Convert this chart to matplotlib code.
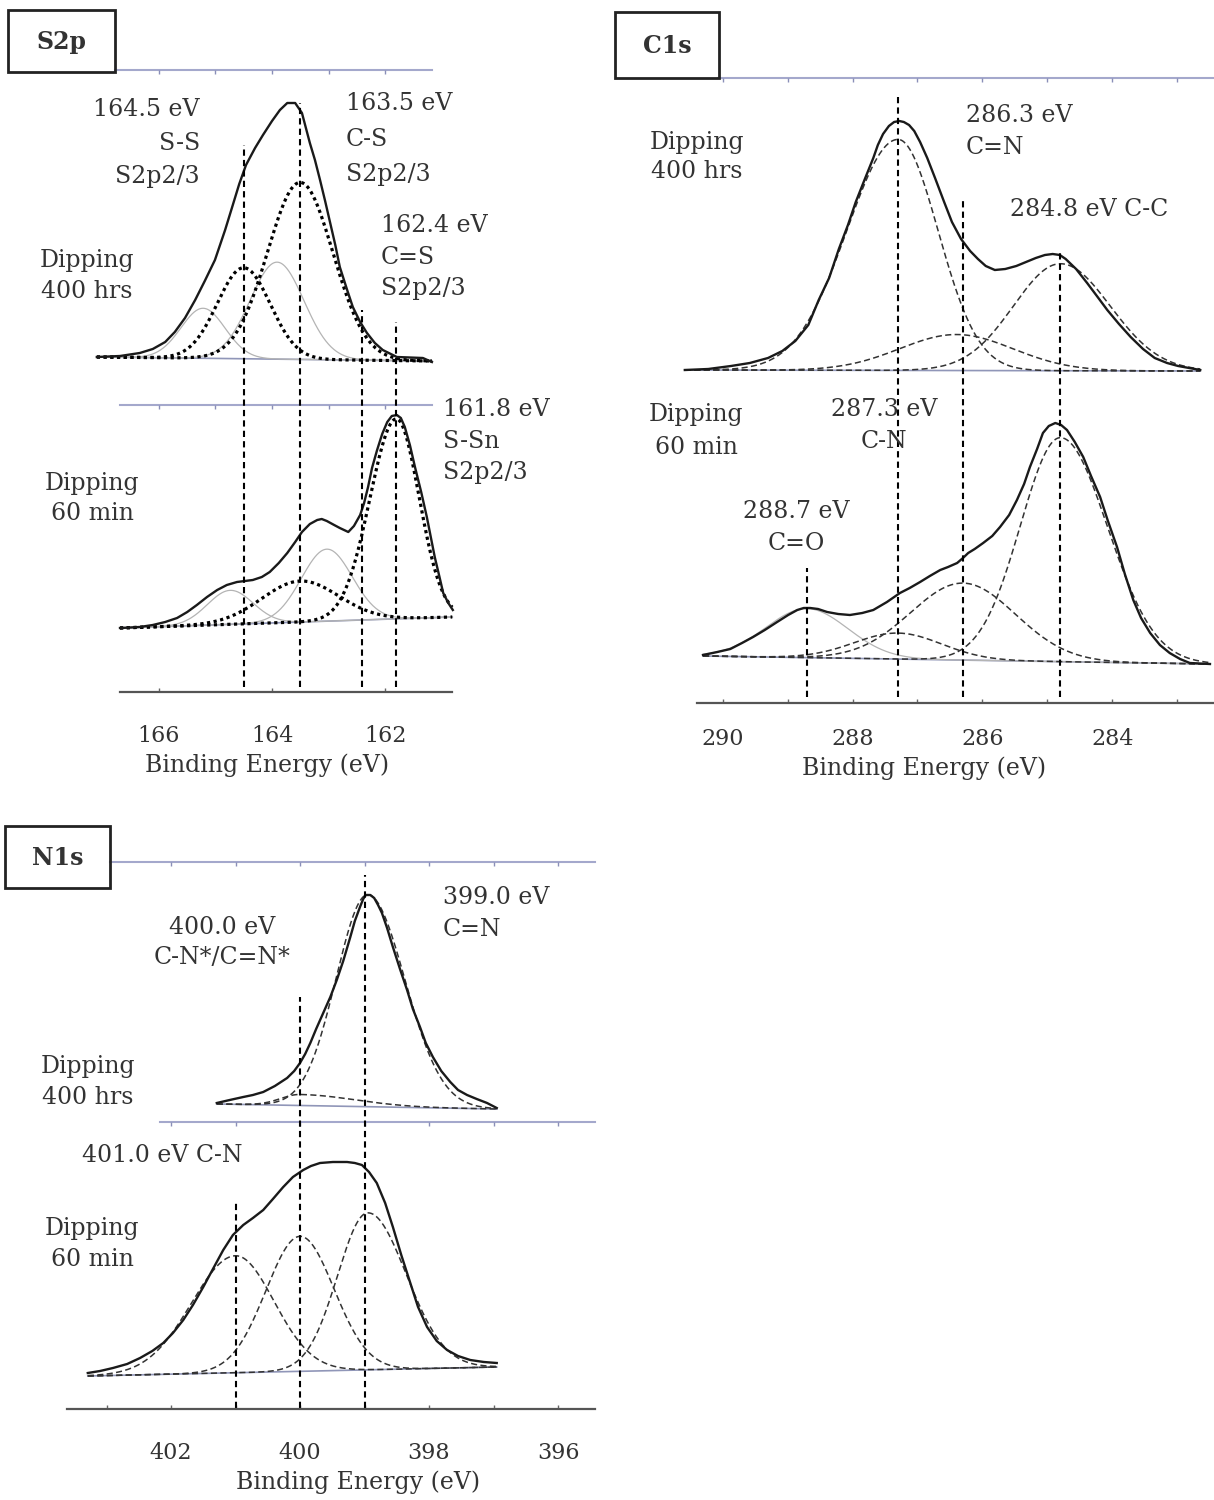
import numpy as np
import matplotlib
matplotlib.use("Agg")
import matplotlib.pyplot as plt
from matplotlib.patches import Rectangle

plt.rcParams["font.family"] = ["DejaVu Serif"]

W, H = 1214, 1500

# ---------------- S2p ----------------
s2p_ticks = [166, 164, 162]
s2p_ref_energy = [164.5, 163.5, 162.4, 161.8]
s2p_ref_top = [547, 589, 382, 370]

s2p_400h_energy = [167.10, 166.69, 166.34, 166.11, 165.89, 165.72, 165.54, 165.36,
                   165.19, 165.01, 164.83, 164.71, 164.58, 164.46, 164.30, 164.16,
                   164.00, 163.86, 163.73, 163.59, 163.47, 163.33, 163.24, 163.15,
                   163.06, 162.97, 162.88, 162.80, 162.67, 162.57, 162.44, 162.32,
                   162.18, 162.04, 161.79, 161.33, 161.17]
s2p_400h_counts = [335, 336, 339, 343, 350, 360, 374, 392, 411, 432, 462, 484, 508,
                   527, 544, 557, 571, 582, 589, 589, 579, 549, 532, 512, 491, 469,
                   447, 425, 402, 385, 370, 359, 349, 342, 335, 334, 330]
s2p_400h_base_e = [167.10, 161.17]
s2p_400h_base_i = [335, 331]
s2p_400h_fit_center = [164.5, 163.5]
s2p_400h_fit_height = [91, 177]
s2p_400h_fit_fwhm_hi = [1.10, 1.36]
s2p_400h_fit_fwhm_lo = [1.10, 1.36]
s2p_400h_minor_center = [165.22, 163.91]
s2p_400h_minor_height = [50, 97]
s2p_400h_minor_fwhm = [0.92, 1.12]

s2p_60m_energy = [166.69, 166.34, 166.11, 165.89, 165.68, 165.50, 165.33, 165.15,
                  164.97, 164.80, 164.62, 164.48, 164.34, 164.18, 164.04, 163.88,
                  163.73, 163.59, 163.47, 163.33, 163.20, 163.12, 163.03, 162.90,
                  162.80, 162.65, 162.55, 162.44, 162.37, 162.30, 162.23, 162.14,
                  162.05, 161.96, 161.88, 161.79, 161.72, 161.65, 161.56, 161.47,
                  161.36, 161.26, 161.19, 161.12, 161.04, 160.97, 160.88, 160.80]
s2p_60m_counts = [64, 65, 67, 70, 74, 80, 87, 95, 102, 107, 110, 111, 112, 115, 120,
                  129, 139, 150, 160, 168, 172, 173, 171, 167, 164, 160, 166, 177,
                  189, 205, 224, 242, 258, 270, 276, 277, 274, 265, 247, 225, 200,
                  175, 155, 135, 116, 99, 89, 82]
s2p_60m_base_e = [166.69, 160.81]
s2p_60m_base_i = [64, 75]
s2p_60m_fit_center = [163.5, 161.8]
s2p_60m_fit_height = [41, 200]
s2p_60m_fit_fwhm_hi = [1.60, 1.10]
s2p_60m_fit_fwhm_lo = [1.60, 0.95]
s2p_60m_minor_center = [164.74, 163.03]
s2p_60m_minor_height = [34, 72]
s2p_60m_minor_fwhm = [0.95, 1.06]

# ---------------- C1s ----------------
c1s_ticks = [290, 288, 286, 284]
c1s_ref_energy = [288.7, 287.3, 286.3, 284.8]
c1s_ref_top = [135, 608, 503, 453]

c1s_400h_energy = [290.58, 290.22, 289.87, 289.58, 289.30, 289.08, 288.88, 288.68,
                   288.52, 288.36, 288.21, 288.07, 287.95, 287.81, 287.68, 287.61,
                   287.53, 287.44, 287.36, 287.28, 287.21, 287.13, 287.05, 286.96,
                   286.85, 286.73, 286.59, 286.47, 286.33, 286.19, 286.07, 285.95,
                   285.81, 285.65, 285.48, 285.33, 285.18, 285.04, 284.92, 284.81,
                   284.72, 284.56, 284.39, 284.24, 284.08, 283.90, 283.72, 283.53,
                   283.35, 283.16, 282.99, 282.65]
c1s_400h_counts = [333, 334, 337, 340, 345, 352, 362, 378, 403, 425, 454, 478, 501,
                   524, 545, 558, 569, 577, 581, 582, 581, 578, 572, 561, 545, 525,
                   501, 481, 464, 452, 444, 437, 433, 434, 437, 441, 445, 448, 449,
                   448, 444, 434, 420, 407, 393, 379, 366, 354, 345, 340, 337, 333]
c1s_400h_base_e = [290.58, 282.65]
c1s_400h_base_i = [333, 332]
c1s_400h_fit_center = [287.3, 286.4, 284.8]
c1s_400h_fit_height = [231, 36, 107]
c1s_400h_fit_fwhm_hi = [1.85, 2.05, 1.70]
c1s_400h_fit_fwhm_lo = [1.45, 2.05, 1.80]

c1s_60m_energy = [290.30, 290.08, 289.88, 289.70, 289.53, 289.35, 289.16, 288.99,
                  288.85, 288.75, 288.65, 288.53, 288.39, 288.22, 288.04, 287.85,
                  287.68, 287.47, 287.27, 287.12, 286.96, 286.81, 286.65, 286.53,
                  286.39, 286.30, 286.22, 286.12, 285.99, 285.85, 285.73, 285.59,
                  285.47, 285.36, 285.27, 285.16, 285.07, 284.98, 284.88, 284.79,
                  284.70, 284.58, 284.45, 284.33, 284.19, 284.07, 283.93, 283.81,
                  283.68, 283.56, 283.42, 283.27, 283.12, 282.96, 282.81, 282.50]
c1s_60m_counts = [48, 51, 54, 60, 66, 73, 81, 88, 93, 95, 95, 94, 91, 89, 88, 90,
                  93, 101, 110, 115, 121, 127, 133, 136, 140, 145, 150, 154, 160,
                  167, 176, 188, 203, 219, 236, 254, 270, 277, 280, 278, 273, 261,
                  246, 227, 206, 182, 156, 129, 103, 85, 70, 58, 50, 44, 40, 39]
c1s_60m_base_e = [290.30, 282.50]
c1s_60m_base_i = [47, 39]
c1s_60m_fit_center = [287.3, 286.3, 284.8]
c1s_60m_fit_height = [26, 77, 224]
c1s_60m_fit_fwhm_hi = [1.58, 1.90, 1.45]
c1s_60m_fit_fwhm_lo = [1.58, 1.90, 1.70]
c1s_60m_minor_center = [288.7]
c1s_60m_minor_height = [49]
c1s_60m_minor_fwhm = [1.48]

# ---------------- N1s ----------------
n1s_ticks = [402, 400, 398, 396]
n1s_ref_energy = [401.0, 400.0, 399.0]
n1s_ref_top = [206, 412, 534]

n1s_400h_energy = [401.29, 401.09, 400.88, 400.73, 400.57, 400.39, 400.20, 400.09,
                   400.00, 399.92, 399.84, 399.75, 399.64, 399.53, 399.43, 399.33,
                   399.22, 399.15, 399.07, 399.02, 398.98, 398.91, 398.85, 398.79,
                   398.73, 398.65, 398.56, 398.45, 398.34, 398.25, 398.14, 398.05,
                   397.94, 397.81, 397.67, 397.55, 397.41, 397.26, 397.10, 396.95]
n1s_400h_counts = [306, 309, 312, 314, 317, 323, 331, 338, 346, 355, 366, 380, 396,
                   412, 429, 448, 472, 488, 502, 510, 514, 514, 511, 504, 496, 481,
                   462, 440, 419, 400, 382, 366, 352, 338, 327, 319, 314, 310, 306, 301]
n1s_400h_base_e = [401.29, 396.95]
n1s_400h_base_i = [305, 300]
n1s_400h_fit_center = [400.0, 398.95]
n1s_400h_fit_height = [11, 212]
n1s_400h_fit_fwhm_hi = [0.70, 1.15]
n1s_400h_fit_fwhm_lo = [2.00, 1.35]

n1s_60m_energy = [403.29, 403.10, 402.90, 402.68, 402.48, 402.29, 402.12, 401.97,
                  401.81, 401.66, 401.50, 401.35, 401.19, 401.04, 400.88, 400.73,
                  400.57, 400.42, 400.26, 400.11, 399.95, 399.83, 399.69, 399.49,
                  399.27, 399.15, 399.04, 398.93, 398.81, 398.68, 398.56, 398.43,
                  398.29, 398.17, 398.03, 397.88, 397.72, 397.55, 397.36, 397.15, 396.95]
n1s_60m_counts = [36, 38, 41, 45, 51, 58, 66, 76, 89, 104, 122, 140, 159, 174, 184,
                  191, 199, 210, 222, 232, 239, 243, 246, 247, 247, 246, 244, 237,
                  226, 206, 182, 154, 126, 102, 82, 68, 59, 53, 49, 47, 46]
n1s_60m_base_e = [403.29, 396.95]
n1s_60m_base_i = [33, 42]
n1s_60m_fit_center = [401.0, 400.0, 398.95]
n1s_60m_fit_height = [117, 135, 157]
n1s_60m_fit_fwhm_hi = [1.60, 1.24, 1.10]
n1s_60m_fit_fwhm_lo = [1.40, 1.24, 1.40]

TEXT = "#333333"
DOTTED = dict(color="k", lw=2.3, ls=(0, (1, 1.1)))
DASHED = dict(color="#333333", lw=1.1, ls=(0, (4, 2.2)))
MINOR = dict(color="#b4b4b4", lw=0.9)
ENVELOPE = dict(color="#1a1a1a", lw=1.7)
BASE = dict(color="#9096b8", lw=1.2)
FRAME = dict(color="#a4a8cc", lw=1.5)
VLINE = dict(color="k", lw=1.5, ls=(0, (3, 2)))


def split_gauss(e, center, height, fwhm_hi, fwhm_lo):
    sig = np.where(e >= center, fwhm_hi, fwhm_lo) / 2.3548
    return height * np.exp(-0.5 * ((e - center) / sig) ** 2)


def background(e, base_e, base_i):
    return np.interp(e, base_e[::-1], base_i[::-1])


def draw_spectrum(ax, energy, counts, base_e, base_i, fit, fit_style, minor=None):
    e = np.linspace(base_e[0], base_e[1], 500)
    bg = background(e, base_e, base_i)
    ax.plot(base_e, base_i, **BASE)
    if minor is not None:
        for c, h, w in zip(*minor):
            ax.plot(e, bg + split_gauss(e, c, h, w, w), **MINOR)
    for c, h, wh, wl in zip(*fit):
        ax.plot(e, bg + split_gauss(e, c, h, wh, wl), **fit_style)
    ax.plot(energy, counts, solid_joinstyle="round", **ENVELOPE)


def make_axes(fig, px_box, xlim, ylim, axis_span, ticks, pad, minor_step=None):
    x0, x1, y0, y1 = px_box
    ax = fig.add_axes([x0 / W, 1 - y1 / H, (x1 - x0) / W, (y1 - y0) / H])
    ax.set_xlim(*xlim)
    ax.set_ylim(*ylim)
    ax.patch.set_alpha(0)
    for side in ("left", "right", "top"):
        ax.spines[side].set_visible(False)
    ax.spines["bottom"].set_position(("data", 0))
    ax.spines["bottom"].set_bounds(*axis_span)
    ax.spines["bottom"].set_color("#555555")
    ax.spines["bottom"].set_linewidth(1.6)
    ax.set_yticks([])
    ax.set_xticks(ticks)
    if minor_step:
        ax.set_xticks(np.arange(np.ceil(min(axis_span)), max(axis_span), minor_step), minor=True)
    ax.tick_params(axis="x", which="both", direction="in", length=3, width=1,
                   color="#666666", pad=pad, labelsize=16, labelcolor=TEXT)
    return ax


def frame_line(ax, e_span, level):
    ax.plot(e_span, [level, level], **FRAME)
    marks = np.arange(np.ceil(min(e_span)), max(e_span), 1.0)
    ax.plot(marks, np.full(len(marks), level), ls="none", marker=3, ms=3,
            color="#8a8fb8")


fig = plt.figure(figsize=(W / 100, H / 100), dpi=100)


def label(x, y, s, ha="left", size=17, **kw):
    fig.text(x / W, 1 - y / H, s, ha=ha, va="center", fontsize=size, color=TEXT, **kw)


def title_box(x0, y0, x1, y1, s):
    fig.add_artist(Rectangle((x0 / W, 1 - y1 / H), (x1 - x0) / W, (y1 - y0) / H,
                             transform=fig.transFigure, fill=False, lw=2, ec="#222222"))
    label((x0 + x1) / 2, (y0 + y1) / 2 + 1, s, ha="center", size=17, weight="bold")


# S2p panel
ax = make_axes(fig, (80, 470, 55, 720), (167.398, 160.496), (-28, 637),
               (166.69, 160.81), s2p_ticks, pad=24)
frame_line(ax, (166.78, 161.17), 622)
frame_line(ax, (166.69, 161.17), 287)
draw_spectrum(ax, s2p_400h_energy, s2p_400h_counts, s2p_400h_base_e, s2p_400h_base_i,
              (s2p_400h_fit_center, s2p_400h_fit_height, s2p_400h_fit_fwhm_hi,
               s2p_400h_fit_fwhm_lo), DOTTED,
              (s2p_400h_minor_center, s2p_400h_minor_height, s2p_400h_minor_fwhm))
draw_spectrum(ax, s2p_60m_energy, s2p_60m_counts, s2p_60m_base_e, s2p_60m_base_i,
              (s2p_60m_fit_center, s2p_60m_fit_height, s2p_60m_fit_fwhm_hi,
               s2p_60m_fit_fwhm_lo), DOTTED,
              (s2p_60m_minor_center, s2p_60m_minor_height, s2p_60m_minor_fwhm))
ax.vlines(s2p_ref_energy, 5, s2p_ref_top, **VLINE)

title_box(8, 10, 115, 72, "S2p")
label(200, 110, "164.5 eV", ha="right")
label(200, 143, "S-S", ha="right")
label(200, 176, "S2p2/3", ha="right")
label(346, 104, "163.5 eV")
label(346, 140, "C-S")
label(346, 175, "S2p2/3")
label(381, 225, "162.4 eV")
label(381, 257, "C=S")
label(381, 289, "S2p2/3")
label(443, 410, "161.8 eV")
label(443, 441, "S-Sn")
label(443, 473, "S2p2/3")
label(87, 260, "Dipping", ha="center")
label(87, 291, "400 hrs", ha="center")
label(92, 483, "Dipping", ha="center")
label(92, 513, "60 min", ha="center")
label(267, 765, "Binding Energy (eV)", ha="center")

# C1s panel
ax = make_axes(fig, (670, 1214, 60, 720), (290.808, 282.438), (-17, 643),
               (290.39, 282.45), c1s_ticks, pad=18, minor_step=1.0)
frame_line(ax, (290.07, 282.45), 625)
draw_spectrum(ax, c1s_400h_energy, c1s_400h_counts, c1s_400h_base_e, c1s_400h_base_i,
              (c1s_400h_fit_center, c1s_400h_fit_height, c1s_400h_fit_fwhm_hi,
               c1s_400h_fit_fwhm_lo), DASHED)
draw_spectrum(ax, c1s_60m_energy, c1s_60m_counts, c1s_60m_base_e, c1s_60m_base_i,
              (c1s_60m_fit_center, c1s_60m_fit_height, c1s_60m_fit_fwhm_hi,
               c1s_60m_fit_fwhm_lo), DASHED,
              (c1s_60m_minor_center, c1s_60m_minor_height, c1s_60m_minor_fwhm))
ax.vlines(c1s_ref_energy, 6, c1s_ref_top, **VLINE)

title_box(615, 12, 719, 78, "C1s")
label(697, 142, "Dipping", ha="center")
label(697, 172, "400 hrs", ha="center")
label(966, 116, "286.3 eV")
label(966, 148, "C=N")
label(1010, 209, "284.8 eV C-C")
label(696, 415, "Dipping", ha="center")
label(696, 447, "60 min", ha="center")
label(884, 410, "287.3 eV", ha="center")
label(884, 441, "C-N", ha="center")
label(796, 512, "288.7 eV", ha="center")
label(796, 544, "C=O", ha="center")
label(924, 768, "Binding Energy (eV)", ha="center")

# N1s panel
ax = make_axes(fig, (60, 600, 845, 1425), (403.721, 395.349), (-16, 564),
               (403.61, 395.43), n1s_ticks, pad=24, minor_step=1.0)
frame_line(ax, (402.95, 395.43), 547)
frame_line(ax, (402.17, 395.43), 287)
draw_spectrum(ax, n1s_400h_energy, n1s_400h_counts, n1s_400h_base_e, n1s_400h_base_i,
              (n1s_400h_fit_center, n1s_400h_fit_height, n1s_400h_fit_fwhm_hi,
               n1s_400h_fit_fwhm_lo), DASHED)
draw_spectrum(ax, n1s_60m_energy, n1s_60m_counts, n1s_60m_base_e, n1s_60m_base_i,
              (n1s_60m_fit_center, n1s_60m_fit_height, n1s_60m_fit_fwhm_hi,
               n1s_60m_fit_fwhm_lo), DASHED)
ax.vlines(n1s_ref_energy, 1, n1s_ref_top, **VLINE)

title_box(5, 826, 110, 888, "N1s")
label(222, 927, "400.0 eV", ha="center")
label(222, 957, "C-N*/C=N*", ha="center")
label(443, 898, "399.0 eV")
label(443, 930, "C=N")
label(88, 1066, "Dipping", ha="center")
label(88, 1098, "400 hrs", ha="center")
label(82, 1155, "401.0 eV C-N")
label(92, 1228, "Dipping", ha="center")
label(92, 1259, "60 min", ha="center")
label(358, 1482, "Binding Energy (eV)", ha="center")

fig.savefig("out.png", dpi=100, facecolor="white")
